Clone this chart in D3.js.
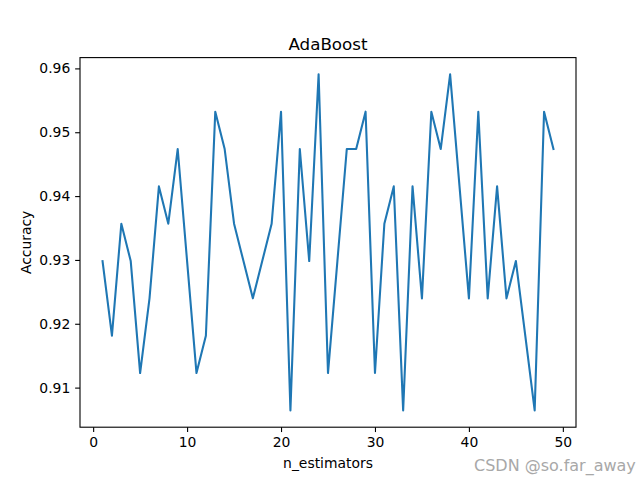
<!DOCTYPE html>
<html><head><meta charset="utf-8">
<script src="https://cdn.jsdelivr.net/npm/d3@7"></script>
<style>body{margin:0;background:#fff}svg{display:block}text{font-family:"DejaVu Sans",sans-serif}</style>
</head><body><svg id="c" width="640" height="480"></svg>
<script>
const nEstimators = d3.range(1, 50);
const accuracy = [0.92982,0.91813,0.93567,0.92982,0.91228,0.92398,0.94152,0.93567,0.94737,0.92982,
0.91228,0.91813,0.95322,0.94737,0.93567,0.92982,0.92398,0.92982,0.93567,0.95322,
0.90643,0.94737,0.92982,0.95906,0.91228,0.92982,0.94737,0.94737,0.95322,0.91228,
0.93567,0.94152,0.90643,0.94152,0.92398,0.95322,0.94737,0.95906,0.94152,0.92398,
0.95322,0.92398,0.94152,0.92398,0.92982,0.91813,0.90643,0.95322,0.94737];
const xTicks = [0,10,20,30,40,50];
const yTicks = [0.91,0.92,0.93,0.94,0.95,0.96];

const svg = d3.select("#c");
const L=80,R=576,T=57.6,B=427.2;
const xmin=d3.min(nEstimators), xmax=d3.max(nEstimators), xp=(xmax-xmin)*0.05;
const ymin=d3.min(accuracy), ymax=d3.max(accuracy), yp=(ymax-ymin)*0.05;
const x=d3.scaleLinear().domain([xmin-xp,xmax+xp]).range([L,R]);
const y=d3.scaleLinear().domain([ymin-yp,ymax+yp]).range([B,T]);

svg.append("path").datum(nEstimators.map((d,i)=>[d,accuracy[i]]))
  .attr("d",d3.line().x(d=>x(d[0])).y(d=>y(d[1])))
  .attr("fill","none").attr("stroke","#1f77b4").attr("stroke-width",2.08)
  .attr("stroke-linejoin","round").attr("stroke-linecap","square");

svg.append("rect").attr("x",L).attr("y",T).attr("width",R-L).attr("height",B-T)
  .attr("fill","none").attr("stroke","#000").attr("stroke-width",1.1);

const xa=svg.append("g").attr("transform",`translate(0,${B})`)
  .call(d3.axisBottom(x).tickValues(xTicks).tickSize(4.86).tickPadding(4.9).tickFormat(d3.format("d")));
const ya=svg.append("g").attr("transform",`translate(${L},0)`)
  .call(d3.axisLeft(y).tickValues(yTicks).tickSize(4.86).tickPadding(4.9).tickFormat(d3.format(".2f")));
[xa,ya].forEach(a=>{a.select(".domain").remove();
  a.selectAll("line").attr("stroke","#000").attr("stroke-width",1.1);
  a.selectAll("text").attr("font-size",13.9).attr("fill","#000").attr("font-family","DejaVu Sans");});

svg.append("text").attr("x",(L+R)/2).attr("y",49.5).attr("text-anchor","middle")
  .attr("font-size",16.7).text("AdaBoost");
svg.append("text").attr("x",(L+R)/2).attr("y",468).attr("text-anchor","middle")
  .attr("font-size",13.9).text("n_estimators");
svg.append("text").attr("transform","translate(31,242.4) rotate(-90)").attr("text-anchor","middle")
  .attr("font-size",13.9).text("Accuracy");
svg.append("text").attr("x",474).attr("y",470.5).attr("text-anchor","start")
  .attr("font-family","Liberation Sans").attr("font-size",16).attr("fill","#a8a8a8").text("CSDN @so.far_away");
</script></body></html>
